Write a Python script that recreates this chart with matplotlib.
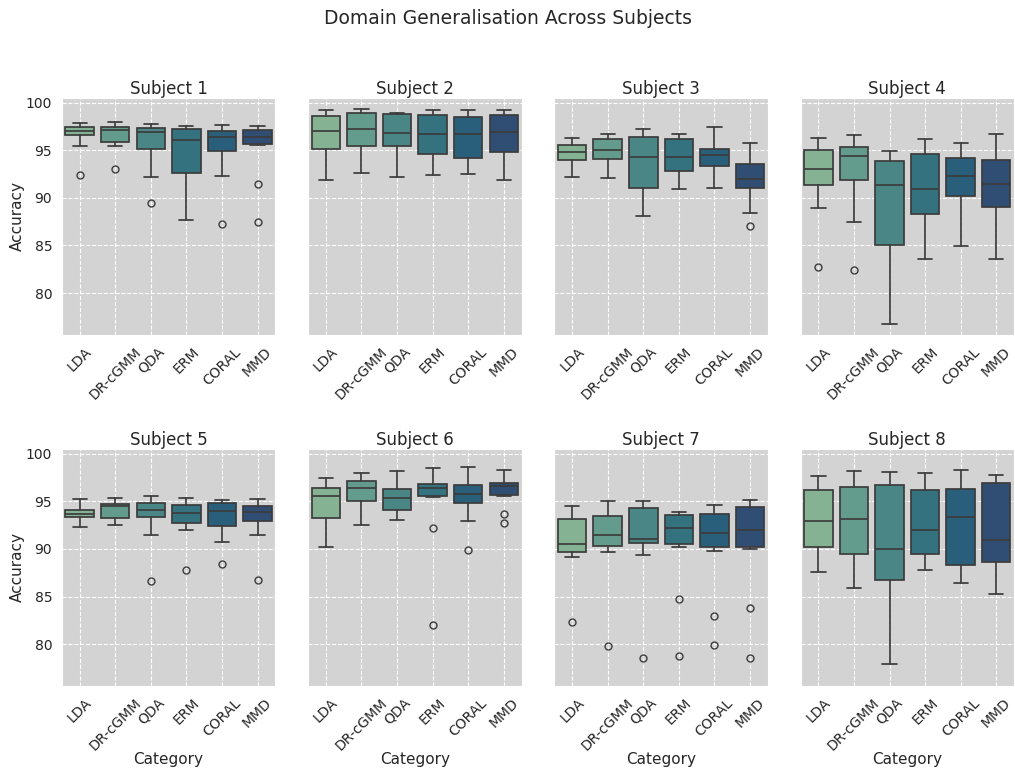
import matplotlib
matplotlib.use("Agg")
import matplotlib.pyplot as plt
import seaborn as sns

methods = ["LDA", "DR-cGMM", "QDA", "ERM", "CORAL", "MMD"]
subjects = [f"Subject {i}" for i in range(1, 9)]

# per subject, per method: (whislo, q1, median, q3, whishi)
box_stats = [
    [(95.47, 96.56, 97.05, 97.44, 97.82), (95.47, 95.86, 97.12, 97.47, 97.93),
     (92.21, 95.16, 96.95, 97.33, 97.72), (87.65, 92.56, 96.10, 97.19, 97.58),
     (92.32, 94.88, 96.39, 96.98, 97.68), (95.50, 95.65, 96.42, 97.09, 97.51)],
    [(91.89, 95.16, 97.02, 98.60, 99.26), (92.63, 95.44, 97.19, 98.95, 99.37),
     (92.21, 95.47, 96.84, 98.77, 98.91), (92.35, 94.63, 96.74, 98.74, 99.26),
     (92.49, 94.18, 96.74, 98.46, 99.26), (91.86, 94.81, 96.95, 98.67, 99.19)],
    [(92.18, 93.96, 94.77, 95.58, 96.25), (92.07, 94.11, 94.98, 96.21, 96.70),
     (88.10, 91.02, 94.32, 96.42, 97.26), (90.91, 92.77, 94.25, 96.21, 96.70),
     (90.98, 93.30, 94.49, 95.16, 97.40), (88.39, 91.02, 92.00, 93.58, 95.72)],
    [(88.95, 91.33, 93.05, 94.98, 96.25), (87.51, 91.82, 94.35, 95.30, 96.56),
     (76.74, 85.09, 91.30, 93.82, 94.95), (83.54, 88.28, 90.95, 94.60, 96.18),
     (84.98, 90.21, 92.32, 94.18, 95.75), (83.54, 89.02, 91.47, 94.00, 96.70)],
    [(92.28, 93.33, 93.65, 94.11, 95.19), (92.53, 93.23, 94.49, 94.70, 95.33),
     (91.44, 93.33, 94.07, 94.81, 95.51), (92.00, 92.70, 93.79, 94.56, 95.33),
     (90.74, 92.42, 93.93, 94.77, 95.12), (91.51, 92.95, 93.86, 94.49, 95.19)],
    [(90.18, 93.23, 95.54, 96.39, 97.40), (92.56, 94.98, 96.35, 97.16, 98.00),
     (92.98, 94.04, 95.37, 96.28, 98.14), (95.47, 95.51, 96.39, 96.84, 98.46),
     (92.95, 94.77, 95.75, 96.70, 98.63), (95.58, 95.65, 96.63, 96.95, 98.28)],
    [(89.12, 89.65, 90.49, 93.12, 94.49), (89.65, 90.35, 91.44, 93.40, 95.05),
     (89.40, 90.60, 91.05, 94.32, 95.05), (90.25, 90.53, 92.18, 93.51, 93.89),
     (89.79, 90.21, 91.68, 93.68, 94.60), (90.00, 90.25, 92.00, 94.35, 95.09)],
    [(87.61, 90.21, 92.95, 96.18, 97.61), (85.89, 89.47, 93.12, 96.46, 98.21),
     (77.89, 86.77, 90.00, 96.74, 98.11), (87.79, 89.47, 92.00, 96.18, 97.93),
     (86.39, 88.32, 93.33, 96.25, 98.25), (85.30, 88.60, 90.91, 96.91, 97.75)],
]

outliers = [
    [[92.35], [93.05], [89.44], [], [87.30], [91.47, 87.51]],
    [[], [], [], [], [], []],
    [[], [], [], [], [], [87.02]],
    [[82.70], [82.42], [], [], [], []],
    [[], [], [86.67], [87.79], [88.46], [86.70]],
    [[], [], [], [92.21, 82.00], [89.86], [93.61, 92.74]],
    [[82.32], [79.82], [78.53], [84.70, 78.77], [82.91, 79.86], [83.82, 78.56]],
    [[], [], [], [], [], []],
]

sns.set_style("darkgrid", {"axes.facecolor": "lightgray", "grid.linestyle": "--"})
palette = [sns.desaturate(c, 0.75) for c in sns.color_palette("crest", len(methods))]
line_color = "#3c3c3c"

fig, axes = plt.subplots(2, 4, figsize=(10.15, 7.7), dpi=100, sharey=True)
fig.subplots_adjust(left=0.061, right=0.999, top=0.873, bottom=0.109,
                    wspace=0.154, hspace=0.48)

for idx, ax in enumerate(axes.flat):
    stats = []
    for (lo, q1, med, q3, hi), fl in zip(box_stats[idx], outliers[idx]):
        stats.append(dict(whislo=lo, q1=q1, med=med, q3=q3, whishi=hi, fliers=fl))
    parts = ax.bxp(
        stats, positions=range(len(methods)), widths=0.8, capwidths=0.4,
        patch_artist=True, manage_ticks=False,
        boxprops=dict(edgecolor=line_color, linewidth=1.25),
        medianprops=dict(color=line_color, linewidth=1.25),
        whiskerprops=dict(color=line_color, linewidth=1.25),
        capprops=dict(color=line_color, linewidth=1.25),
        flierprops=dict(marker="o", markersize=5, markerfacecolor="none",
                        markeredgecolor=line_color, linewidth=0),
    )
    for box, c in zip(parts["boxes"], palette):
        box.set_facecolor(c)

    ax.set_xlim(-0.5, len(methods) - 0.5)
    ax.set_xticks(range(len(methods)))
    ax.set_xticklabels(methods, rotation=45)
    ax.set_title(subjects[idx], fontsize=12, pad=3)
    if idx % 4 == 0:
        ax.set_ylabel("Accuracy", fontsize=11, labelpad=1)
    if idx >= 4:
        ax.set_xlabel("Category", fontsize=11, labelpad=-1)

axes[0, 0].set_ylim(75.6, 100.5)
axes[0, 0].set_yticks([80, 85, 90, 95, 100])
fig.suptitle("Domain Generalisation Across Subjects", fontsize=13.5, y=0.988)

fig.savefig("out.png", dpi=100)
